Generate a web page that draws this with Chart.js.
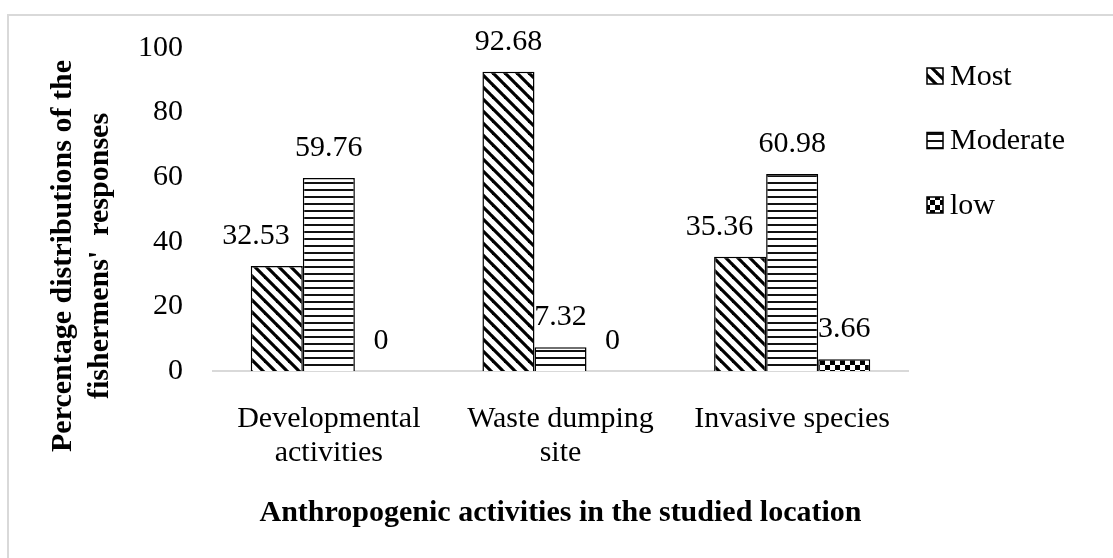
<!DOCTYPE html>
<html>
<head>
<meta charset="utf-8">
<script src="https://cdn.jsdelivr.net/npm/chart.js@4.4.1/dist/chart.umd.min.js"></script>
<style>
  body { margin: 0; background: #fff; }
  #wrap { position: relative; width: 1113px; height: 558px; overflow: hidden; }
  #frame { position: absolute; left: 7px; top: 14px; width: 1200px; height: 700px;
           border-left: 2px solid #d9d9d9; border-top: 2px solid #d9d9d9; }
  canvas { position: absolute; left: 0; top: 0; }
</style>
</head>
<body>
<div id="wrap">
  <div id="frame"></div>
  <canvas id="chart" width="1113" height="558"></canvas>
</div>
<script>
// chart data
const categories = [['Developmental', 'activities'], ['Waste dumping', 'site'], ['Invasive species']];
const seriesNames = ['Most', 'Moderate', 'low'];
const mostValues = [32.53, 92.68, 35.36];
const moderateValues = [59.76, 7.32, 60.98];
const lowValues = [0, 0, 3.66];
const yTicks = [0, 20, 40, 60, 80, 100];
const xTitle = 'Anthropogenic activities in the studied location';
const yTitle = ['Percentage distributions of the', "fishermens'  responses"];

const FONT = "'Liberation Serif', 'Times New Roman', serif";

// build fill patterns for the bars
function makePattern(kind) {
    const tile = document.createElement('canvas');
    const c = tile.getContext('2d');
    if (kind === 'diag') {
        tile.width = 12; tile.height = 12;
        c.fillStyle = '#fff'; c.fillRect(0, 0, 12, 12);
        c.strokeStyle = '#000'; c.lineWidth = 3.2;
        [[-6, -6, 18, 18], [-6, 6, 6, 18], [6, -6, 18, 6]].forEach(function (l) {
            c.beginPath(); c.moveTo(l[0], l[1]); c.lineTo(l[2], l[3]); c.stroke();
        });
    } else if (kind === 'horiz') {
        tile.width = 4; tile.height = 7;
        c.fillStyle = '#fff'; c.fillRect(0, 0, 4, 7);
        c.fillStyle = '#111'; c.fillRect(0, 0, 4, 2);
    } else {
        tile.width = 10; tile.height = 10;
        c.fillStyle = '#fff'; c.fillRect(0, 0, 10, 10);
        c.fillStyle = '#000'; c.fillRect(0, 0, 5, 5); c.fillRect(5, 5, 5, 5);
    }
    return c.createPattern(tile, 'repeat');
}

const patterns = [makePattern('diag'), makePattern('horiz'), makePattern('check')];

// value labels above each bar; nudged left if the next bar would cover them
const valueLabels = {
    id: 'valueLabels',
    afterDatasetsDraw(chart) {
        const ctx = chart.ctx;
        ctx.save();
        ctx.font = '30px ' + FONT;
        ctx.fillStyle = '#000';
        ctx.textBaseline = 'middle';
        const n = chart.data.datasets.length;
        chart.data.datasets.forEach(function (ds, i) {
            chart.getDatasetMeta(i).data.forEach(function (bar, j) {
                const text = String(ds.data[j]);
                const w = ctx.measureText(text).width;
                const y = bar.y - 30;
                let x = bar.x - w / 2;
                if (i < n - 1) {
                    const next = chart.getDatasetMeta(i + 1).data[j];
                    const right = bar.x + bar.width / 2;
                    if (x + w > right && next.y < y + 15) {
                        x = right - 13 - w;
                    }
                }
                ctx.fillText(text, x, y);
            });
        });
        ctx.restore();
    }
};

// legend drawn on the right, one row per series
const sideLegend = {
    id: 'sideLegend',
    afterDraw(chart) {
        const ctx = chart.ctx;
        const x = chart.chartArea.right + 19;
        ctx.save();
        ctx.font = '30px ' + FONT;
        ctx.textBaseline = 'middle';
        chart.data.datasets.forEach(function (ds, i) {
            const y = 76 + i * 64.5;
            ctx.fillStyle = patterns[i];
            ctx.fillRect(x, y - 8, 16, 16);
            ctx.strokeStyle = '#000';
            ctx.lineWidth = 1.5;
            ctx.strokeRect(x, y - 8, 16, 16);
            ctx.fillStyle = '#000';
            ctx.fillText(ds.label, x + 23, y + 1);
        });
        ctx.restore();
    }
};

// two-line rotated y axis title
const yAxisTitle = {
    id: 'yAxisTitle',
    afterDraw(chart) {
        const ctx = chart.ctx;
        ctx.save();
        ctx.font = 'bold 30px ' + FONT;
        ctx.fillStyle = '#000';
        ctx.textAlign = 'center';
        ctx.textBaseline = 'middle';
        yTitle.forEach(function (line, i) {
            ctx.save();
            ctx.translate(63 + i * 37, 256);
            ctx.rotate(-Math.PI / 2);
            ctx.fillText(line, 0, 0);
            ctx.restore();
        });
        ctx.restore();
    }
};

const seriesValues = [mostValues, moderateValues, lowValues];

new Chart(document.getElementById('chart'), {
    type: 'bar',
    data: {
        labels: categories,
        datasets: seriesNames.map(function (name, i) {
            return {
                label: name,
                data: seriesValues[i],
                backgroundColor: patterns[i],
                borderColor: '#000',
                borderWidth: 1.5
            };
        })
    },
    options: {
        responsive: false,
        animation: false,
        events: [],
        layout: { padding: { top: 48, right: 205, bottom: 0, left: 0 } },
        categoryPercentage: 0.674,
        barPercentage: 1,
        plugins: {
            legend: { display: false },
            tooltip: { enabled: false }
        },
        scales: {
            x: {
                grid: { display: false, drawTicks: false },
                border: { display: true, color: '#d9d9d9', width: 2 },
                ticks: { color: '#000', padding: 31, font: { family: FONT, size: 30, lineHeight: 1.13 } },
                title: {
                    display: true, text: xTitle, color: '#000',
                    font: { family: FONT, size: 30, weight: 'bold', lineHeight: 1.2 },
                    padding: { top: 0, bottom: 27 }
                },
                afterFit(scale) { scale.height = 187; }
            },
            y: {
                min: 0, max: 100,
                grid: { display: false, drawTicks: false },
                border: { display: false },
                afterBuildTicks(scale) { scale.ticks = yTicks.map(function (v) { return { value: v }; }); },
                ticks: { color: '#000', padding: 30, font: { family: FONT, size: 30 } },
                afterFit(scale) { scale.width = 213; }
            }
        }
    },
    plugins: [valueLabels, sideLegend, yAxisTitle]
});
</script>
</body>
</html>
